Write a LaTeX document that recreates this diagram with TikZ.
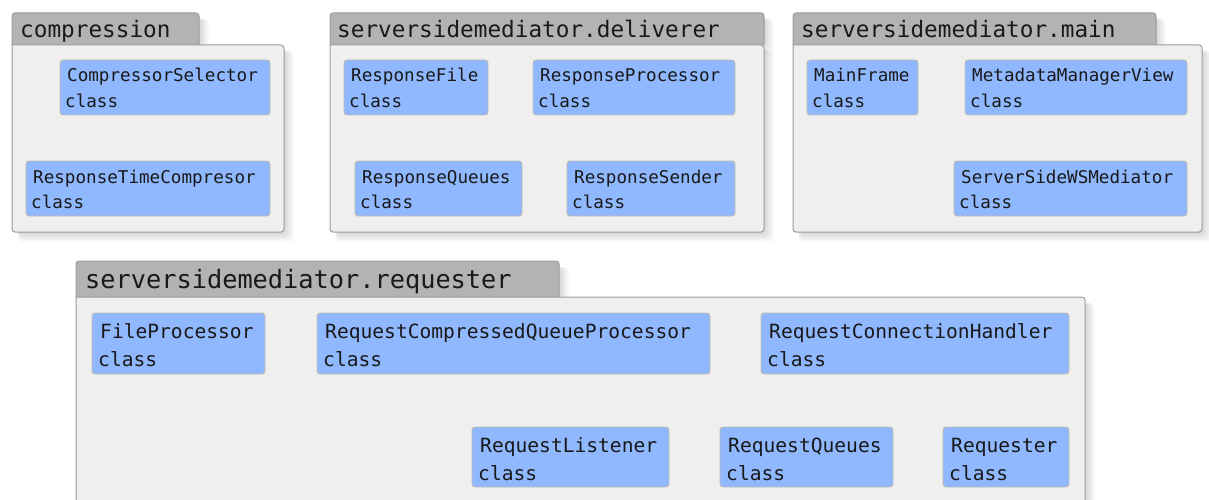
\documentclass[tikz,border=0pt]{standalone}
\usepackage{fontspec}
\newfontfamily\umlfont{DejaVu Sans Mono}
\usetikzlibrary{calc,fit}
\definecolor{tabgray}{HTML}{B3B3B3}
\definecolor{bodygray}{HTML}{EFEFEF}
\definecolor{edgegray}{HTML}{9C9C9C}
\definecolor{clsblue}{HTML}{8FB8FF}
\definecolor{clsedge}{HTML}{C4BCAC}
\tikzset{
  pkgtab/.style={fill=tabgray, draw=edgegray, line width=1pt},
  pkgbody/.style={fill=bodygray, draw=edgegray, line width=1pt},
  pkgshadow/.style={fill=black, fill opacity=0.016, draw=none, rounded corners=4pt},
  clsbox/.style={fill=clsblue, draw=clsedge, line width=0.9pt, rounded corners=3pt, inner sep=0pt},
  topfont/.style={font=\umlfont\fontsize{17.6}{20}\selectfont, inner sep=0pt, anchor=base west, text=black!90},
  botfont/.style={font=\umlfont\fontsize{19.6}{22}\selectfont, inner sep=0pt, anchor=base west, text=black!90},
  titlefont/.style={font=\umlfont\fontsize{22.7}{26}\selectfont, inner sep=0pt, anchor=base west, text=black!90},
  bigtitlefont/.style={font=\umlfont\fontsize{25.3}{28}\selectfont, inner sep=0pt, anchor=base west, text=black!90},
}
% package: #1 name, #2 x1, #3 tab top, #4 tab right, #5 body top, #6 body right, #7 body bottom
\newcommand\umlpkg[7]{%
  \foreach \d in {1,...,10}{
    \path[pkgshadow] ($(#2,#3)+(6,6)$) rectangle ($(#4,#5)+(\d,\d)$);
    \path[pkgshadow] ($(#2,#5)+(6,6)$) rectangle ($(#6,#7)+(\d,\d)$);
  }
  \draw[pkgtab] (#2,#5) [rounded corners=3pt] -- (#2,#3) -- (#4,#3) [sharp corners] -- (#4,#5);
  \draw[pkgbody] (#2,#5) [rounded corners=3pt] -- (#6,#5) -- (#6,#7) -- (#2,#7) [sharp corners] -- cycle;
  \coordinate (#1) at (#2,#5);
}
% class: #1 name, #2 x1, #3 y1, #4 x2, #5 y2, #6 title
\newcommand\topcls[6]{%
  \node[clsbox, fit={(#2,#3) (#4,#5)}] (#1) {};
  \node[topfont] (#1-n) at ($(#2,#3)+(7,22)$) {#6};
  \node[topfont] (#1-k) at ($(#2,#3)+(5,47)$) {class};
}
\newcommand\botcls[6]{%
  \node[clsbox, fit={(#2,#3) (#4,#5)}] (#1) {};
  \node[botfont] (#1-n) at ($(#2,#3)+(8,25)$) {#6};
  \node[botfont] (#1-k) at ($(#2,#3)+(6,53)$) {class};
}
\begin{document}
\begin{tikzpicture}[x=1pt,y=-1pt]
\useasboundingbox[fill=white] (0,0) rectangle (1209,500);

% compression
\umlpkg{pcomp}{12}{13}{199}{45}{284}{232}
\node[titlefont] (tcomp) at (20,38) {compression};
\topcls{cs}{60}{60}{270}{115}{CompressorSelector}
\topcls{rtc}{26}{161}{270}{216}{ResponseTimeCompresor}

% deliverer
\umlpkg{pdel}{330}{13}{764}{45}{764}{232}
\node[titlefont] (tdel) at (337,38) {serversidemediator.deliverer};
\topcls{rf}{344}{60}{488}{115}{ResponseFile}
\topcls{rp}{533}{60}{735}{115}{ResponseProcessor}
\topcls{rq}{355}{161}{522}{216}{ResponseQueues}
\topcls{rs}{567}{161}{735}{216}{ResponseSender}

% main
\umlpkg{pmain}{793}{13}{1156}{45}{1202}{232}
\node[titlefont] (tmain) at (801,38) {serversidemediator.main};
\topcls{mf}{807}{60}{918}{115}{MainFrame}
\topcls{mmv}{965}{60}{1187}{115}{MetadataManagerView}
\topcls{sswm}{954}{161}{1187}{216}{ServerSideWSMediator}

% requester
\umlpkg{preq}{76}{261}{559}{297}{1085}{520}
\node[bigtitlefont] (treq) at (85,288) {serversidemediator.requester};
\botcls{fp}{92}{313}{265}{374}{FileProcessor}
\botcls{rcqp}{317}{313}{710}{374}{RequestCompressedQueueProcessor}
\botcls{rch}{761}{313}{1069}{374}{RequestConnectionHandler}
\botcls{rl}{472}{427}{669}{487}{RequestListener}
\botcls{rqs}{720}{427}{893}{487}{RequestQueues}
\botcls{req}{943}{427}{1069}{487}{Requester}
\end{tikzpicture}
\end{document}
